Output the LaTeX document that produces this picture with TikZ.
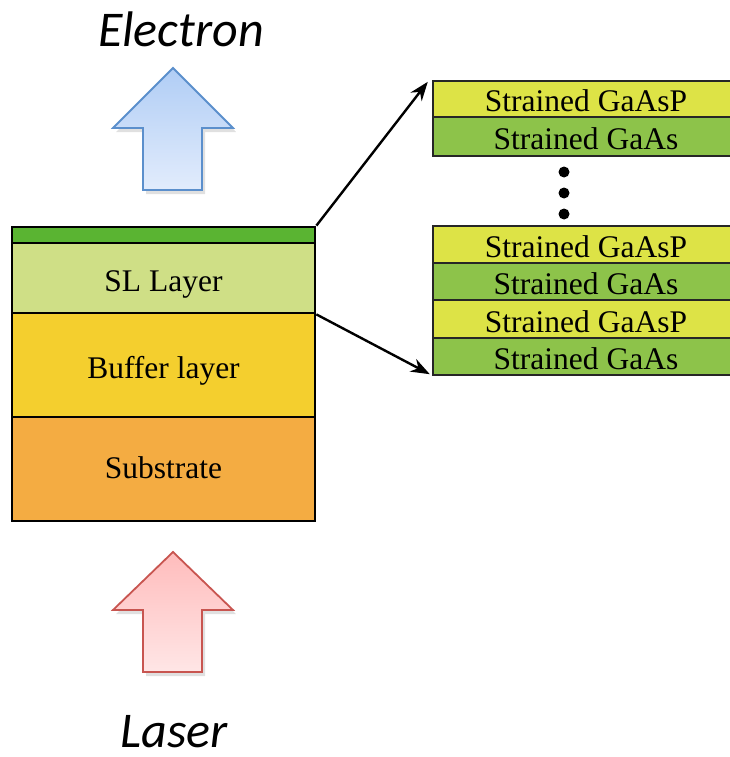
\documentclass[tikz,border=0pt]{standalone}
\usepackage{fontspec}
\setmainfont{Liberation Serif}
\newfontfamily\labelfont{Carlito}
\usetikzlibrary{arrows.meta,positioning}

\definecolor{capgreen}{RGB}{90,180,50}
\definecolor{slgreen}{RGB}{207,223,134}
\definecolor{bufyellow}{RGB}{244,207,46}
\definecolor{suborange}{RGB}{244,172,66}
\definecolor{gaaspcol}{RGB}{221,227,70}
\definecolor{gaascol}{RGB}{141,195,74}
\definecolor{eblue}{RGB}{176,205,245}
\definecolor{eblueL}{RGB}{226,236,252}
\definecolor{eedge}{RGB}{91,143,204}
\definecolor{lred}{RGB}{255,188,188}
\definecolor{lredL}{RGB}{255,230,230}
\definecolor{ledge}{RGB}{200,85,80}

\tikzset{
  layer/.style={draw=black, line width=2.8pt, inner sep=0pt, minimum width=303pt,
    text height=26pt, text depth=0pt,
    font=\fontsize{31.5}{31.5}\selectfont},
  film/.style={draw=black!85, line width=2.4pt, inner sep=0pt, minimum width=306pt,
    text height=26pt, text depth=0pt,
    font=\fontsize{31.5}{31.5}\selectfont},
  beam/.style={line width=1.8pt, line join=miter},
  tag/.style={font=\labelfont\itshape\fontsize{50}{50}\selectfont, inner sep=0pt},
  link/.style={line width=2.4pt, -{Stealth[length=19pt,width=14pt]}},
  dot/.style={circle, fill=black, inner sep=0pt, minimum size=11pt}
}

\begin{document}
\begin{tikzpicture}[x=1pt,y=-1pt]
\useasboundingbox (0,0) rectangle (730,757);

% layer stack of the photocathode
\node[layer, fill=capgreen, minimum height=16pt, text height=0pt] (cap) at (163.5,235) {};
\node[layer, fill=slgreen, minimum height=70pt] (sl) at (163.5,278) {SL Layer};
\node[layer, fill=bufyellow, minimum height=104pt] (buf) at (163.5,365) {Buffer layer};
\node[layer, fill=suborange, minimum height=104pt, text height=18pt] (sub) at (163.5,469) {Substrate};

% superlattice detail
\node[film, fill=gaaspcol, minimum height=36pt] (p1) at (586,99) {Strained GaAsP};
\node[film, fill=gaascol, minimum height=39pt] (a1) at (586,136.5) {Strained GaAs};
\node[dot] (d1) at (564,172) {};
\node[dot] (d2) at (564,193) {};
\node[dot] (d3) at (564,214) {};
\node[film, fill=gaaspcol, minimum height=37pt] (p2) at (586,244.5) {Strained GaAsP};
\node[film, fill=gaascol, minimum height=37pt] (a2) at (586,281.5) {Strained GaAs};
\node[film, fill=gaaspcol, minimum height=38pt] (p3) at (586,319) {Strained GaAsP};
\node[film, fill=gaascol, minimum height=37pt] (a3) at (586,356.5) {Strained GaAs};

% zoom connectors
\draw[link] (cap.north east) -- ([xshift=-4pt,yshift=-2pt]p1.north west);
\draw[link] (sl.south east) -- ([xshift=-2pt,yshift=2pt]a3.south west);

% block arrows with soft drop shadow
\fill[black, opacity=0.12] (176,72) -- (236,132) -- (205,132) -- (205,194) -- (146,194) -- (146,132) -- (116,132) -- cycle;
\path[beam, draw=eedge, top color=eblue, bottom color=eblueL]
  (173,68) -- (233,128) -- (202,128) -- (202,190) -- (143,190) -- (143,128) -- (113,128) -- cycle;
\fill[black, opacity=0.12] (176,556) -- (236,614) -- (205,614) -- (205,676) -- (146,676) -- (146,614) -- (116,614) -- cycle;
\path[beam, draw=ledge, top color=lred, bottom color=lredL]
  (173,552) -- (233,610) -- (202,610) -- (202,672) -- (143,672) -- (143,610) -- (113,610) -- cycle;

% labels
\node[tag, anchor=base] (electron) at (181,47) {Electron};
\node[tag, anchor=base] (laser) at (174,747) {Laser};
\end{tikzpicture}
\end{document}
